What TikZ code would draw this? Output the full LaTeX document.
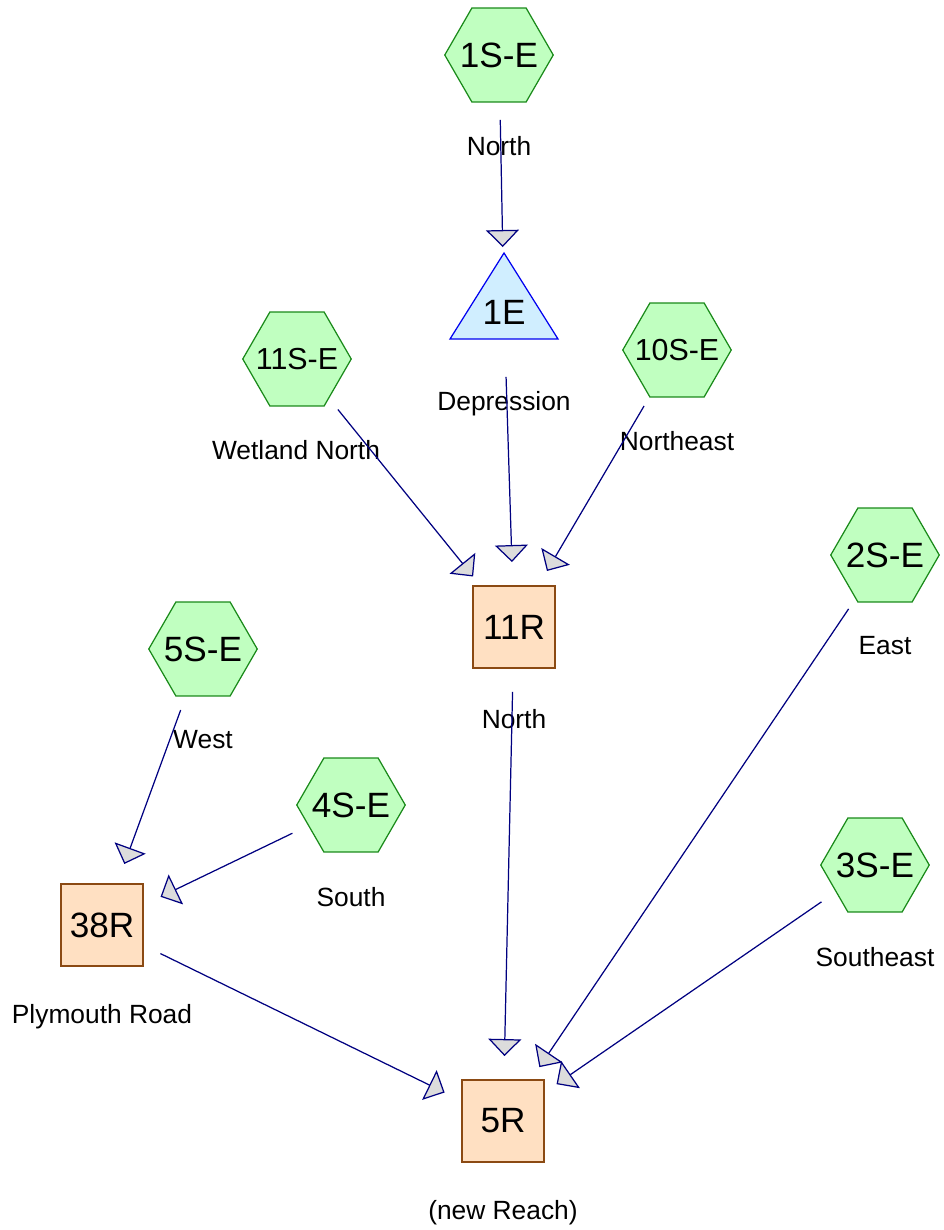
\documentclass[tikz,border=0pt]{standalone}
\usepackage{fontspec}
\setmainfont{Liberation Sans}
\usepackage{tikz}
\usetikzlibrary{shapes,arrows.meta,positioning,calc}

\definecolor{subfill}{HTML}{C0FFC0}
\definecolor{subdraw}{HTML}{1A8A1A}
\definecolor{reachfill}{HTML}{FFE0C2}
\definecolor{reachdraw}{HTML}{8B4A13}
\definecolor{depfill}{HTML}{D0EEFF}
\definecolor{depdraw}{HTML}{0000F0}
\definecolor{linkcol}{HTML}{000080}
\definecolor{tipfill}{HTML}{DCDCDC}

\tikzset{
  hexbase/.style={regular polygon, regular polygon sides=6, minimum size=2.17cm,
    inner sep=0pt, draw=subdraw, fill=subfill, line width=0.7pt},
  subarea/.style={hexbase, label={[font=\fontsize{20}{22}\selectfont, inner sep=0pt]center:#1}},
  subsmall/.style={hexbase, label={[font=\fontsize{17.3}{19}\selectfont, inner sep=0pt]center:#1}},
  reach/.style={rectangle, minimum size=1.64cm, inner sep=0pt, draw=reachdraw,
    fill=reachfill, line width=0.7pt, font=\fontsize{20}{22}\selectfont},
  deptext/.style={inner sep=0pt, font=\fontsize{20}{22}\selectfont},
  lbl/.style={inner sep=0pt, font=\fontsize{15}{17}\selectfont},
  flow/.style={draw=linkcol, line width=0.7pt, shorten <=1.3cm, shorten >=1.3cm,
    -{Triangle[length=0.34cm, width=0.66cm, fill=tipfill]}}
}

\begin{document}
\begin{tikzpicture}[x=0.02cm, y=-0.02cm]
        \useasboundingbox (0,0) rectangle (943,1230);

        % Depression (triangle drawn by hand)
        \draw[draw=depdraw, fill=depfill, line width=0.7pt] (504,253) -- (558,339) -- (450,339) -- cycle;
        \node[deptext] (t1E) at (504,312) {1E};
        \node[lbl] (l1E) at (504,404) {Depression};

        % Subareas
        \node[subarea=1S-E] (h1SE) at (499,55) {};
        \node[lbl] (l1SE) at (499,146) {North};
        \node[subsmall=11S-E] (h11SE) at (297,359) {};
        \node[lbl] (l11SE) at (296,450) {Wetland North};
        \node[subsmall=10S-E] (h10SE) at (677,350) {};
        \node[lbl] (l10SE) at (677,441) {Northeast};
        \node[subarea=2S-E] (h2SE) at (885,555) {};
        \node[lbl] (l2SE) at (885,646) {East};
        \node[subarea=5S-E] (h5SE) at (203,649) {};
        \node[lbl] (l5SE) at (203,740) {West};
        \node[subarea=4S-E] (h4SE) at (351,805) {};
        \node[lbl] (l4SE) at (351,897) {South};
        \node[subarea=3S-E] (h3SE) at (875,865) {};
        \node[lbl] (l3SE) at (875,957) {Southeast};

        % Reaches
        \node[reach] (r11) at (514,627) {11R};
        \node[lbl] (l11) at (514,719) {North};
        \node[reach] (r38) at (102,925) {38R};
        \node[lbl] (l38) at (102,1017) {Plymouth Road};
        \node[reach] (r5) at (503,1121) {5R};
        \node[lbl] (l5) at (503,1213) {(new Reach)};

        % Links
        \draw[flow] (h1SE.center) -- (t1E.center);
        \draw[flow] (h11SE.center) -- (r11.center);
        \draw[flow] (t1E.center) -- (r11.center);
        \draw[flow] (h10SE.center) -- (r11.center);
        \draw[flow] (r11.center) -- (r5.center);
        \draw[flow] (h2SE.center) -- (r5.center);
        \draw[flow] (h3SE.center) -- (r5.center);
        \draw[flow] (h5SE.center) -- (r38.center);
        \draw[flow] (h4SE.center) -- (r38.center);
        \draw[flow] (r38.center) -- (r5.center);
\end{tikzpicture}
\end{document}
